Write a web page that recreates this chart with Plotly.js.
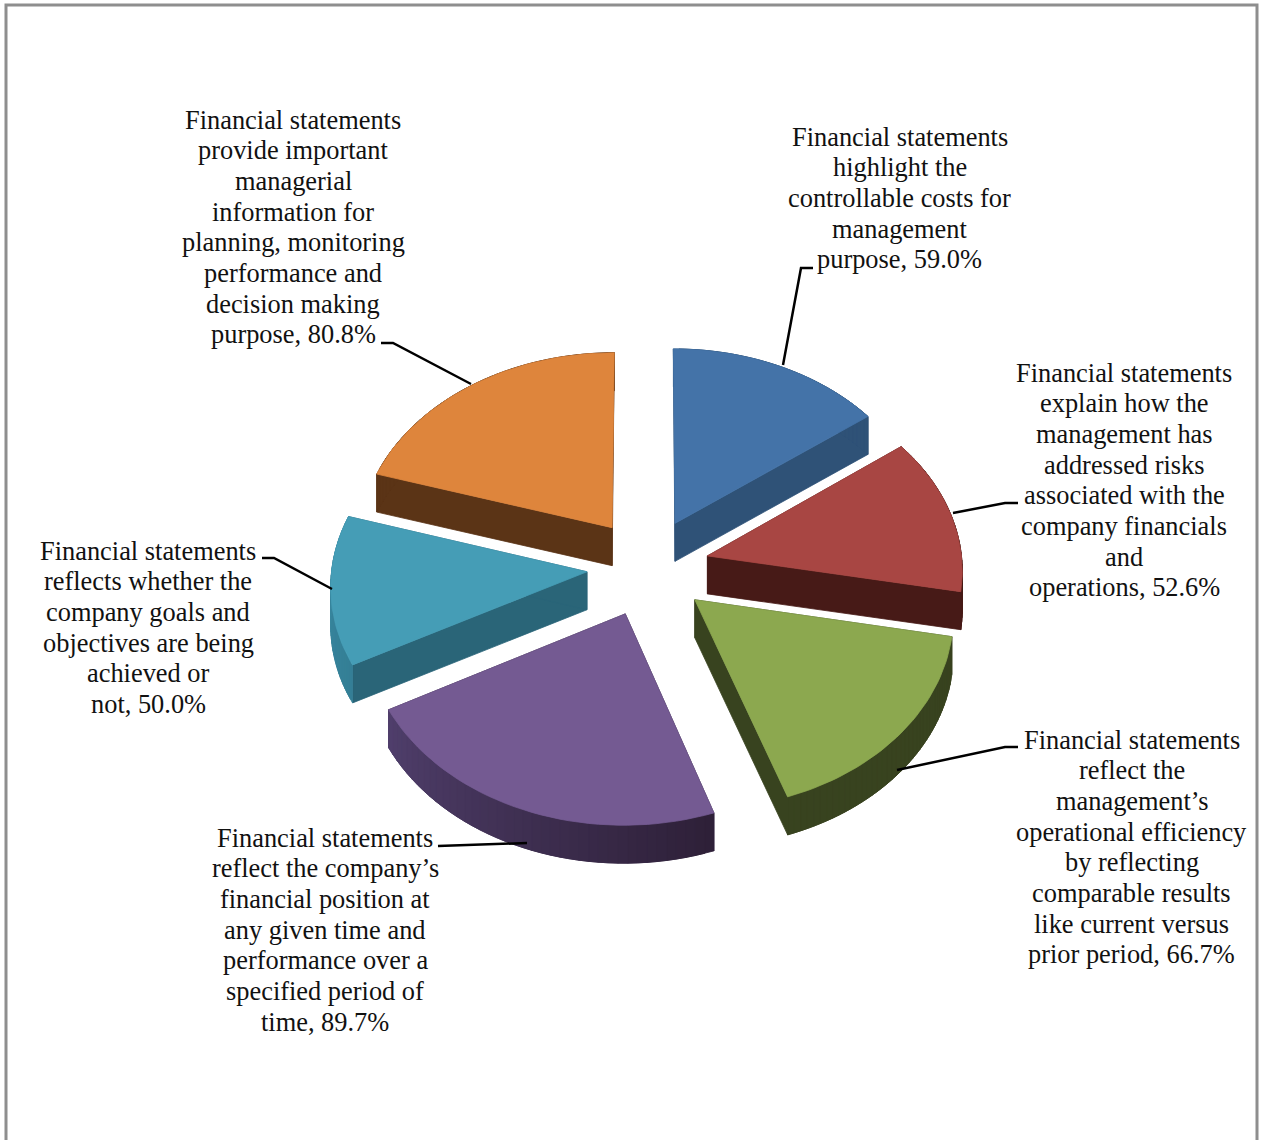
<!DOCTYPE html>
<html>
<head>
<meta charset="utf-8">
<script src="https://cdn.plot.ly/plotly-3.0.1.min.js"></script>
<style>html,body{margin:0;padding:0;background:#fff;overflow:hidden}</style>
</head>
<body>
<div id="chart" style="width:1263px;height:1140px"></div>
<script>
// ---- data ----
const categories = [
  "Financial statements<br>highlight the<br>controllable costs for<br>management<br>purpose, 59.0%",
  "Financial statements<br>explain how the<br>management has<br>addressed risks<br>associated with the<br>company financials<br>and<br>operations, 52.6%",
  "Financial statements<br>reflect the<br>management’s<br>operational efficiency<br>by reflecting<br>comparable results<br>like current versus<br>prior period, 66.7%",
  "Financial statements<br>reflect the company’s<br>financial position at<br>any given time and<br>performance over a<br>specified period of<br>time, 89.7%",
  "Financial statements<br>reflects whether the<br>company goals and<br>objectives are being<br>achieved or<br>not, 50.0%",
  "Financial statements<br>provide important<br>managerial<br>information for<br>planning, monitoring<br>performance and<br>decision making<br>purpose, 80.8%"
];
const values = [59.0, 52.6, 66.7, 89.7, 50.0, 80.8];
const topColors = ["#4473a8", "#a84643", "#8ca84f", "#745a92", "#459db6", "#de853c"];
const wallColors = ["#2f5277", "#471a17", "#38431f", "#33233f", "#2a6578", "#5b3416"];
const arcStart = ["#2f5277", "#471a17", "#38431f", "#2e2038", "#357f96", "#5b3416"];
const arcEnd = ["#2f5277", "#471a17", "#38431f", "#503f6c", "#3a8aa3", "#5b3416"];
const labelX = [899.5, 1124, 1131.5, 325, 148, 293];
const labelY = [136.5, 372.5, 739.5, 837.5, 550.5, 119.5];
const lineStep = 30.7;
const leaders = [
  "M783,365 L801,268 L813,268",
  "M953,513 L1005,503 L1018,503",
  "M897,770 L1005,747 L1018,747",
  "M527,843 L438,846",
  "M332,589 L274,558 L262,558",
  "M471,384 L393,343 L381,343"
];
const drawOrder = [5, 0, 4, 1, 3, 2];

// ---- 3D pie projection on to the plot's own axes ----
const cx = 648, cy = 567, R = 255, tilt = 0.75, persp = 0.065, explode = 0.24, explodeY = 1.08, depth = 38;
function proj(u, v, z) {
  const f = 1 / (1 + persp * v);
  return [cx + R * u * f, cy - R * tilt * v * f + depth * z];
}
function mix(a, b, t) {
  const p = s => [1, 3, 5].map(i => parseInt(s.substr(i, 2), 16));
  const A = p(a), B = p(b);
  return "rgb(" + A.map((c, i) => Math.round(c + (B[i] - c) * t)).join(",") + ")";
}
function poly(pts, color, name) {
  return {
    type: "scatter", mode: "lines", fill: "toself", fillcolor: color,
    x: pts.map(p => p[0]), y: pts.map(p => p[1]),
    line: {color: color, width: 0.8}, hoverinfo: "skip", showlegend: false, name: name
  };
}
const total = values.reduce((a, b) => a + b, 0);
const traces = [];
let acc = 0;
const slices = values.map(val => {
  const a0 = acc / total * 2 * Math.PI; acc += val;
  return [a0, acc / total * 2 * Math.PI];
});
drawOrder.forEach(i => {
  const [a0, a1] = slices[i];
  const mid = (a0 + a1) / 2;
  const ox = explode * Math.sin(mid), oy = explode * explodeY * Math.cos(mid);
  const n = 40;
  const rim = [];
  for (let k = 0; k <= n; k++) {
    const a = a0 + (a1 - a0) * k / n;
    rim.push([ox + Math.sin(a), oy + Math.cos(a)]);
  }
  const apex = [ox, oy];
  const nm = "slice " + (i + 1);
  // straight walls
  [rim[0], rim[n]].forEach(e => {
    traces.push(poly([proj(apex[0], apex[1], 0), proj(e[0], e[1], 0), proj(e[0], e[1], 1), proj(apex[0], apex[1], 1), proj(apex[0], apex[1], 0)], wallColors[i], nm));
  });
  // curved wall, shaded in overlapping steps so no seams show
  for (let k = 0; k < n; k++) {
    const p = rim[k], q = rim[Math.min(k + 2, n)];
    traces.push(poly([proj(p[0], p[1], 0), proj(q[0], q[1], 0), proj(q[0], q[1], 1), proj(p[0], p[1], 1), proj(p[0], p[1], 0)], mix(arcStart[i], arcEnd[i], k / n), nm));
  }
  // top face
  const top = [apex].concat(rim, [apex]).map(p => proj(p[0], p[1], 0));
  traces.push(poly(top, topColors[i], nm));
});

const shapes = leaders.map(d => ({type: "path", path: d, line: {color: "#000", width: 2.5}, xref: "x", yref: "y"}));
shapes.push({type: "path", path: "M6,1145 L6,5 L1257,5 L1257,1145", line: {color: "#8e8e8e", width: 3}, xref: "x", yref: "y"});

const annotations = [];
categories.forEach((t, i) => {
  t.split("<br>").forEach((line, k) => {
    annotations.push({
      x: labelX[i], y: labelY[i] + k * lineStep, xref: "x", yref: "y", text: line, showarrow: false,
      xanchor: "center", yanchor: "middle", align: "center",
      font: {family: "Liberation Serif", size: 26.4, color: "#111"}
    });
  });
});

Plotly.newPlot("chart", traces, {
  width: 1263, height: 1140, margin: {l: 0, r: 0, t: 0, b: 0},
  paper_bgcolor: "#fff", plot_bgcolor: "#fff", showlegend: false,
  xaxis: {range: [0, 1263], visible: false, fixedrange: true},
  yaxis: {range: [1140, 0], visible: false, fixedrange: true},
  shapes: shapes, annotations: annotations
}, {displayModeBar: false, staticPlot: true});
</script>
</body>
</html>
